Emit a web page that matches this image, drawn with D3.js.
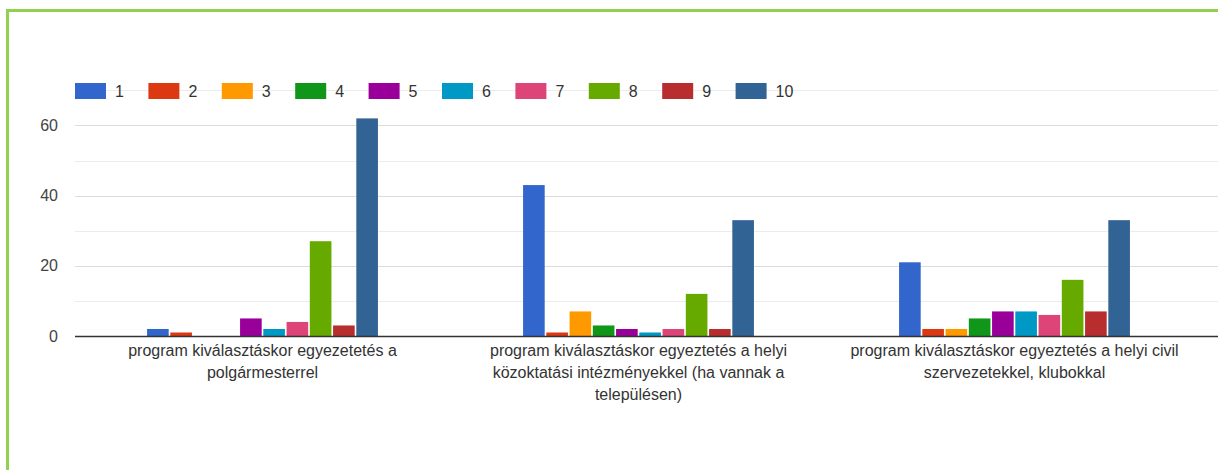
<!DOCTYPE html>
<html>
<head>
<meta charset="utf-8">
<script src="https://cdn.jsdelivr.net/npm/d3@7"></script>
<style>
  html, body { margin: 0; padding: 0; background: #fff; }
  svg { display: block; font-family: Arial, "Liberation Sans", sans-serif; }
</style>
</head>
<body>
<svg id="chart" width="1218" height="470"></svg>
<script>
const categories = [
  ["program kiválasztáskor egyezetetés a", "polgármesterrel"],
  ["program kiválasztáskor egyeztetés a helyi", "közoktatási intézményekkel (ha vannak a", "településen)"],
  ["program kiválasztáskor egyeztetés a helyi civil", "szervezetekkel, klubokkal"]
];
const seriesNames = ["1", "2", "3", "4", "5", "6", "7", "8", "9", "10"];
const seriesColors = ["#3366cc", "#dc3912", "#ff9900", "#109618", "#990099", "#0099c6", "#dd4477", "#66aa00", "#b82e2e", "#316395"];
const values1 = [2, 1, 0, 0, 5, 2, 4, 27, 3, 62];
const values2 = [43, 1, 7, 3, 2, 1, 2, 12, 2, 33];
const values3 = [21, 2, 2, 5, 7, 7, 6, 16, 7, 33];
const tickValues = [0, 20, 40, 60];
const minorTicks = [10, 30, 50, 70];

const groups = [values1, values2, values3];
const catKeys = categories.map((c, i) => "c" + i);

const svg = d3.select("#chart");

// green frame
svg.append("rect")
  .attr("x", 7.5).attr("y", 10.5)
  .attr("width", 1240).attr("height", 500)
  .attr("fill", "none").attr("stroke", "#92d050").attr("stroke-width", 3);

const left = 74.5, right = 1202.5, plotRightLine = 1218;
const y = d3.scaleLinear().domain([0, 70]).range([336, 90.3]);

const x0 = d3.scaleBand().domain(catKeys).range([left, right])
  .paddingInner(0.386).paddingOuter(0.193);
const x1 = d3.scaleBand().domain(seriesNames).range([0, x0.bandwidth()]).paddingInner(0.07);

// gridlines
const grid = svg.append("g");
minorTicks.forEach(t => {
  grid.append("line").attr("x1", 75).attr("x2", plotRightLine)
    .attr("y1", Math.round(y(t)) + 0.5).attr("y2", Math.round(y(t)) + 0.5)
    .attr("stroke", "#ececec").attr("stroke-width", 1);
});
tickValues.filter(t => t !== 0).forEach(t => {
  grid.append("line").attr("x1", 75).attr("x2", plotRightLine)
    .attr("y1", Math.round(y(t)) + 0.5).attr("y2", Math.round(y(t)) + 0.5)
    .attr("stroke", "#dcdcdc").attr("stroke-width", 1);
});

// y axis labels
const yAxis = d3.axisLeft(y).tickValues(tickValues).tickSize(0).tickPadding(0);
const yg = svg.append("g").attr("transform", "translate(58,0)").call(yAxis);
yg.select(".domain").remove();
yg.selectAll("text").attr("font-size", 16).attr("fill", "#444")
  .attr("font-family", "Arial, 'Liberation Sans', sans-serif");

// bars
groups.forEach((vals, gi) => {
  const g = svg.append("g").attr("transform", `translate(${x0(catKeys[gi])},0)`);
  g.selectAll("rect").data(vals.map((v, i) => ({ v, i }))).enter()
    .filter(d => d.v > 0)
    .append("rect")
    .attr("x", d => x1(seriesNames[d.i]))
    .attr("y", d => y(d.v))
    .attr("width", x1.bandwidth())
    .attr("height", d => y(0) - y(d.v))
    .attr("fill", d => seriesColors[d.i]);
});

// baseline
svg.append("line").attr("x1", 75).attr("x2", plotRightLine)
  .attr("y1", 336.5).attr("y2", 336.5)
  .attr("stroke", "#333").attr("stroke-width", 1.5);

// category labels
categories.forEach((lines, gi) => {
  const cx = x0(catKeys[gi]) + x0.bandwidth() / 2;
  const t = svg.append("text").attr("text-anchor", "middle")
    .attr("font-size", 16).attr("fill", "#333");
  lines.forEach((ln, li) => {
    t.append("tspan").attr("x", cx).attr("y", 356 + li * 22).text(ln);
  });
});

// legend
const legend = svg.append("g");
seriesNames.forEach((s, i) => {
  const lx = 75 + i * 73.4;
  legend.append("rect").attr("x", lx).attr("y", 83).attr("width", 31).attr("height", 16)
    .attr("fill", seriesColors[i]);
  legend.append("text").attr("x", lx + 40).attr("y", 97)
    .attr("font-size", 16).attr("fill", "#333").text(s);
});
</script>
</body>
</html>
